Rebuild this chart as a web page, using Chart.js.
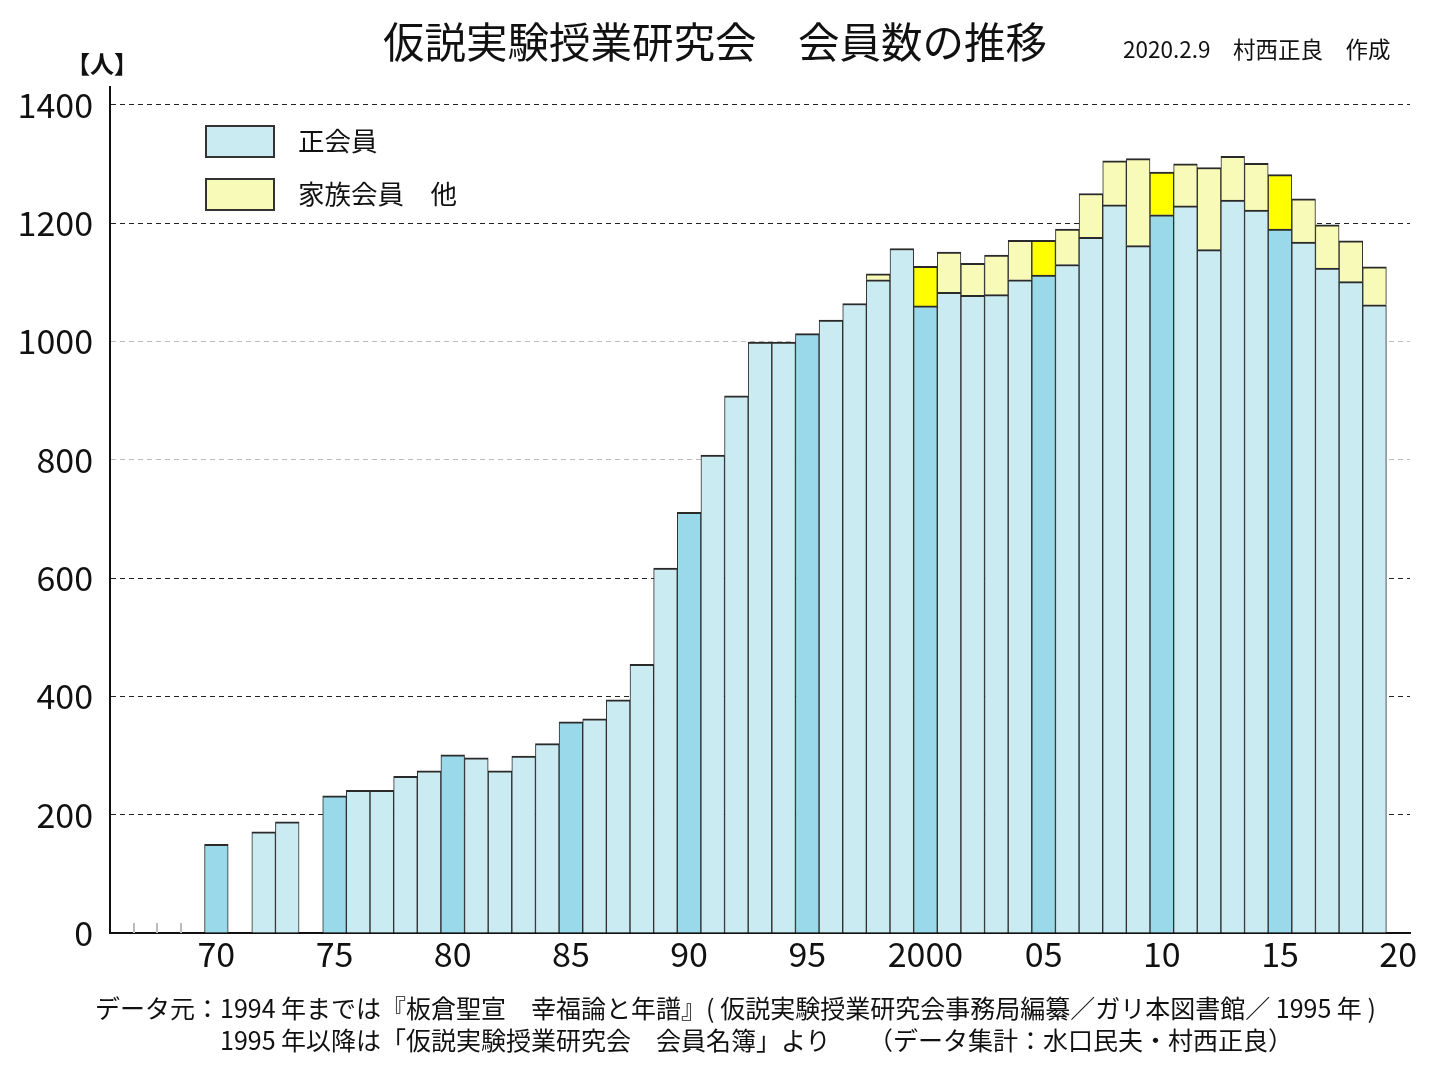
<!DOCTYPE html>
<html><head><meta charset="utf-8">
<script src="https://cdn.jsdelivr.net/npm/chart.js@4/dist/chart.umd.min.js"></script>
<style>
html,body{margin:0;padding:0;background:#fff;}
#wrap{position:relative;width:1436px;height:1076px;overflow:hidden;font-family:"Noto Sans CJK JP",sans-serif;color:#111;}
#c{position:absolute;left:0;top:0;}
.t{position:absolute;white-space:pre;line-height:1;}
.lbox{position:absolute;box-sizing:border-box;border:2px solid #333;width:70px;height:33px;}
</style></head><body>
<div id="wrap">
<canvas id="c" width="1436" height="1076"></canvas>
<div class="t" style="left:383px;top:20px;font-size:41.5px;">仮説実験授業研究会　会員数の推移</div>
<div class="t" style="left:1123px;top:37px;font-size:22.5px;">2020.2.9　村西正良　作成</div>
<div class="t" style="left:66px;top:51px;font-size:24px;font-weight:bold;">【人】</div>
<div class="lbox" id="lb1" style="left:205px;top:125px;"></div>
<div class="t" id="lt1" style="left:298px;top:127px;font-size:26.5px;"></div>
<div class="lbox" id="lb2" style="left:205px;top:178px;"></div>
<div class="t" id="lt2" style="left:298px;top:180px;font-size:26.5px;"></div>
<div class="t" style="left:95px;top:995px;font-size:25px;">データ元：1994 年までは『板倉聖宣　幸福論と年譜』( 仮説実験授業研究会事務局編纂／ガリ本図書館／ 1995 年 )</div>
<div class="t" style="left:220px;top:1027px;font-size:25px;">1995 年以降は「仮説実験授業研究会　会員名簿」より　　（データ集計：水口民夫・村西正良）</div>
</div>
<script>
const years = [1966,1967,1968,1969,1970,1971,1972,1973,1974,1975,1976,1977,1978,1979,1980,1981,1982,1983,1984,1985,1986,1987,1988,1989,1990,1991,1992,1993,1994,1995,1996,1997,1998,1999,2000,2001,2002,2003,2004,2005,2006,2007,2008,2009,2010,2011,2012,2013,2014,2015,2016,2017,2018,2019,2020];
const regularMembers = [0,0,0,0,150,null,171,188,null,232,241,241,265,274,301,296,274,299,320,357,362,394,454,617,711,808,908,999,999,1013,1036,1064,1104,1157,1060,1083,1078,1079,1104,1112,1130,1176,1231,1162,1214,1229,1155,1239,1222,1190,1168,1124,1101,1062,null];
const familyOthers = [null,null,null,null,null,null,null,null,null,null,null,null,null,null,null,null,null,null,null,null,null,null,null,null,null,null,null,null,null,null,null,null,10,null,67,68,54,67,67,59,60,74,74,147,72,71,139,74,79,92,73,73,69,64,null];
const xTickLabels = {1970:'70',1975:'75',1980:'80',1985:'85',1990:'90',1995:'95',2000:'2000',2005:'05',2010:'10',2015:'15',2020:'20'};
const yTicks = [0,200,400,600,800,1000,1200,1400];
const yTicksGray = [800,1000];
const seriesNames = ['正会員','家族会員　他'];

const BLUE='#cbebf2', BLUE_DARK='#9ad9e9', YEL='#f8fbb8', YEL_BRIGHT='#ffff00';
const FONT='"Noto Sans CJK JP",sans-serif';
const blueColors = years.map(y => (y % 5 === 0) ? BLUE_DARK : BLUE);
const yelColors = years.map(y => (y % 5 === 0) ? YEL_BRIGHT : YEL);

document.getElementById('lb1').style.background = BLUE;
document.getElementById('lb2').style.background = YEL;
document.getElementById('lt1').textContent = seriesNames[0];
document.getElementById('lt2').textContent = seriesNames[1];

const zeroMarks = {id:'zeroMarks', afterDatasetsDraw(chart){
  const xs=chart.scales.x, ys=chart.scales.y, ctx=chart.ctx;
  ctx.save(); ctx.strokeStyle='#bbb'; ctx.lineWidth=2;
  for(let i=1;i<regularMembers.length;i++){
    if(regularMembers[i]===0 && regularMembers[i-1]===0){
      const px=Math.round((xs.getPixelForValue(i-1)+xs.getPixelForValue(i))/2);
      const py=ys.getPixelForValue(0);
      ctx.beginPath(); ctx.moveTo(px,py); ctx.lineTo(px,py-10); ctx.stroke();
    }
  }
  ctx.restore();
}};

new Chart(document.getElementById('c'), {
  type:'bar',
  data:{
    labels: years,
    datasets:[
      {label:seriesNames[0], data:regularMembers, backgroundColor:blueColors, borderColor:'#2a2a2a', borderWidth:{top:2,left:1,right:1,bottom:0}, borderSkipped:'start', barPercentage:1, categoryPercentage:1},
      {label:seriesNames[1], data:familyOthers, backgroundColor:yelColors, borderColor:'#2a2a2a', borderWidth:{top:2,left:1,right:1,bottom:0}, borderSkipped:'start', barPercentage:1, categoryPercentage:1}
    ]
  },
  options:{
    responsive:false, animation:false, devicePixelRatio:1,
    layout:{padding:{left:0,right:26,top:87,bottom:0}},
    plugins:{legend:{display:false}, title:{display:false}, tooltip:{enabled:false}},
    scales:{
      x:{stacked:true, offset:true,
        grid:{display:false, drawTicks:false},
        border:{display:true,color:'#111',width:2},
        ticks:{autoSkip:false,maxRotation:0,minRotation:0,padding:1,color:'#111',font:{family:FONT,size:34},
          callback:(v,i)=> xTickLabels[years[i]] ?? ''},
        afterFit:s=>{s.height=143;}
      },
      y:{stacked:true, min:0, max:1430,
        afterBuildTicks:s=>{s.ticks = yTicks.map(v=>({value:v}));},
        grid:{drawTicks:false, lineWidth:1, color:c=> yTicksGray.includes(c.tick && c.tick.value) ? '#bbb' : '#222'},
        border:{display:true,color:'#111',width:2,dash:[5,4]},
        ticks:{padding:17,color:'#111',font:{family:FONT,size:34},callback:v=>String(v)},
        afterFit:s=>{s.width=110;}
      }
    }
  },
  plugins:[zeroMarks]
});
</script>
</body></html>
